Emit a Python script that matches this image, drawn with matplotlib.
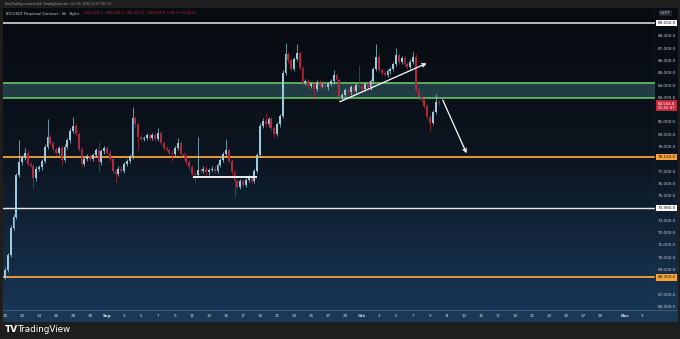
import numpy as np
import matplotlib.pyplot as plt
import matplotlib.colors as mcolors

close = [69000, 70200, 72400, 73300, 76700, 77700, 78100, 78500, 77600, 77400,
         76400, 77200, 77300, 77800, 79000, 79800, 79300, 78800, 78500, 78900,
         77900, 79000, 79500, 80300, 80700, 80000, 78800, 77600, 78000, 78200,
         78000, 78300, 78700, 77700, 78600, 78900, 78500, 78000, 77000, 76800,
         77200, 77000, 77600, 77800, 78200, 81300, 80800, 79800, 79600, 79700,
         79900, 79700, 79900, 79600, 80100, 79300, 78900, 78700, 78500, 78400,
         78900, 79300, 78400, 78200, 77700, 77300, 76800, 76700, 77100, 77000,
         77200, 76900, 77100, 77200, 77000, 77500, 77900, 78400, 78700, 77800,
         76900, 76200, 75700, 76200, 75900, 76300, 76500, 76200, 77000, 78300,
         80700, 81100, 80800, 81200, 80500, 80000, 80800, 81500, 85000, 86500,
         86000, 85300, 86100, 86600, 85400, 84200, 84300, 83900, 84100, 83700,
         84200, 83900, 84000, 83800, 84100, 84300, 84800, 84400, 83000, 83200,
         83600, 83400, 83800, 83500, 84000, 83900, 83700, 84100, 83800, 84300,
         85300, 86300, 85200, 85000, 84800, 85100, 85300, 85700, 86400, 85900,
         86200, 85700, 85500, 85900, 86300, 83600, 83000, 82800, 82300, 81400,
         80900, 81800, 82600, 82500]
first_open = 68300
# long wicks (others get a short default wick)
high_spikes = {5: 79500, 7: 78900, 15: 81200, 24: 81400, 33: 79400, 45: 82200,
               54: 80500, 61: 79700, 68: 79800, 78: 79600, 92: 81700, 99: 87400,
               103: 87300, 116: 85200, 125: 85600, 131: 87300, 138: 87000,
               144: 86700, 152: 83300}
low_spikes = {0: 68200, 10: 75600, 20: 77500, 27: 77300, 33: 76900, 39: 76100,
              47: 78700, 59: 77800, 67: 76100, 81: 74900, 95: 79700, 109: 82900,
              118: 82700, 150: 80300}

# drawn levels
top_line = 89050
zone_lo, zone_hi = 82920, 84140
orange_levels = [78150, 68350]
white_mid = 73980
last_price = 82504.8

# drawn arrows (day, price)
arrow_up = [(39.4, 82640), (49.6, 85760)]
arrow_down = [(51.5, 82780), (54.3, 78450)]
range_line = [(22.1, 29.6), 76480]

price_ticks = [66000, 67000, 69000, 70000, 71000, 72000, 73000, 75000, 76000, 77000,
               79000, 80000, 81000, 83000, 84000, 85000, 86000, 87000, 88000]
tick_days = [0, 2, 4, 6, 8, 10, 12, 14, 16, 18, 20, 22, 24, 26, 28, 30, 32, 34, 36, 38,
             40, 42, 44, 46, 48, 50, 52, 54, 56, 58, 60, 62, 64, 66, 68, 70, 73, 75]
tick_text = ['20', '22', '24', '26', '28', '30', 'Sep', '3', '5', '7', '9', '11', '13',
             '15', '17', '19', '21', '23', '25', '27', '29', 'Oct', '3', '5', '7', '9',
             '11', '13', '15', '17', '19', '21', '23', '25', '27', '29', 'Nov', '3']

W, H = 680, 339
fig = plt.figure(figsize=(W / 100, H / 100), dpi=100, facecolor='#1e1e1e')

def box(x0, y0, x1, y1):
    return [x0 / W, 1 - y1 / H, (x1 - x0) / W, (y1 - y0) / H]

# gradient background for chart + price panel
bg = fig.add_axes(box(3, 8, 678, 310))
cmap = mcolors.LinearSegmentedColormap.from_list('bg', ['#080b10', '#0c1520', '#183656'])
bg.imshow(np.linspace(0, 1, 256).reshape(-1, 1), aspect='auto', cmap=cmap,
          extent=[0, 1, 0, 1], origin='upper')
bg.set_axis_off()

# time band
tb = fig.add_axes(box(3, 310, 678, 322))
tb.set_facecolor('#1a3956')
tb.set_xticks([]); tb.set_yticks([])
for s in tb.spines.values():
    s.set_visible(False)
tb.axhline(1, color='#3a5a78', lw=0.8)

ax = fig.add_axes(box(3, 8, 655, 310))
ax.patch.set_alpha(0)
ymin = 85000 - (310 - 72.7) * 81.3
ymax = 85000 - (8 - 72.7) * 81.3
xmin, xmax = (3 - 5) / 8.5, (655 - 5) / 8.5
ax.set_xlim(xmin, xmax)
ax.set_ylim(ymin, ymax)

n = len(close)
t = np.arange(n) / 3
opens = [first_open] + close[:-1]
up_c, dn_c = '#9ccbdb', '#b3283f'
for i in range(n):
    o, c = opens[i], close[i]
    hi = high_spikes.get(i, max(o, c) + 180)
    lo = low_spikes.get(i, min(o, c) - 180)
    col = up_c if c >= o else dn_c
    ax.vlines(t[i], lo, hi, color=col, lw=0.5, zorder=3)
    ax.bar(t[i], max(abs(c - o), 60), bottom=min(o, c), width=0.22, color=col,
           linewidth=0, zorder=4)

# levels
ax.axhline(top_line, color='#e8e8e8', lw=1.1, zorder=2)
ax.axhspan(zone_lo, zone_hi, color='#35636a', alpha=0.55, lw=0, zorder=1)
ax.axhline(zone_lo, color='#6fcf6a', lw=1.1, zorder=2)
ax.axhline(zone_hi, color='#6fcf6a', lw=1.1, zorder=2)
for lv in orange_levels:
    ax.axhline(lv, color='#f5a53a', lw=1.3, zorder=2)
ax.axhline(white_mid, color='#e8e8e8', lw=1.0, zorder=2)
ax.hlines(range_line[1], *range_line[0], color='white', lw=1.3, zorder=5)

for (x0, y0), (x1, y1) in [arrow_up, arrow_down]:
    ax.annotate('', xy=(x1, y1), xytext=(x0, y0), zorder=6,
                arrowprops=dict(arrowstyle='->', color='white', lw=0.9,
                                shrinkA=0, shrinkB=0, mutation_scale=6))

for s in ax.spines.values():
    s.set_visible(False)
ax.axvline(xmax, color='#2c3e52', lw=1.0)

# price axis
ax.yaxis.tick_right()
ax.set_yticks(price_ticks)
ax.set_yticklabels([f'{v:,.1f}' for v in price_ticks])
ax.tick_params(axis='y', length=0, pad=2.2, labelsize=3.0, labelcolor='#c8ccd4')

def tag(price, txt, fc, tc):
    ax.text(1.004, price, txt, transform=ax.get_yaxis_transform(), fontsize=3.0,
            color=tc, va='center', ha='left', zorder=10,
            bbox=dict(boxstyle='square,pad=0.3', fc=fc, ec='none'), clip_on=False)

tag(top_line, f'{top_line:,.1f}', 'white', '#111111')
tag(orange_levels[0], f'{orange_levels[0]:,.1f}', '#f5a53a', '#111111')
tag(white_mid, f'{white_mid:,.1f}', 'white', '#111111')
tag(orange_levels[1], f'{orange_levels[1]:,.1f}', '#f5a53a', '#111111')
ax.text(1.004, last_price + 150, f'{last_price:,.1f}\n02:42:47', transform=ax.get_yaxis_transform(),
        fontsize=2.9, color='white', va='top', ha='left', zorder=10,
        linespacing=1.1, bbox=dict(boxstyle='square,pad=0.3', fc='#c2293d', ec='none'),
        clip_on=False)
fig.text(660 / W, 1 - 13 / H, 'USDT', fontsize=2.9, color='#c8ccd4', va='center',
         bbox=dict(boxstyle='square,pad=0.3', fc='#1e2530', ec='none'))

# time labels
ax.set_xticks(tick_days)
ax.set_xticklabels(tick_text)
ax.tick_params(axis='x', length=0, pad=3.2, labelsize=3.0, labelcolor='#d6dce4')
for lab in ax.get_xticklabels():
    if lab.get_text() in ('Sep', 'Oct', 'Nov'):
        lab.set_fontweight('bold')

# header
fig.text(5 / W, 1 - 3.5 / H, 'KoryTrading created with TradingView.com, Oct 09, 2024 21:17 UTC+4',
         fontsize=2.2, color='#9aa0a8', va='center')
fig.text(6 / W, 1 - 13.5 / H, 'BTCUSDT Perpetual Contract · 4h · Bybit', fontsize=2.6,
         color='#d0d4da', va='center')
fig.text(84 / W, 1 - 13.5 / H, 'O82,523.1  H82,604.0  L82,421.5  C82,504.8  −18.3 (−0.02%)',
         fontsize=2.6, color='#c2293d', va='center')

# footer logo
fig.text(5 / W, 1 - 330 / H, 'TV', fontsize=6.5, fontweight='bold', color='white', va='center')
fig.text(17 / W, 1 - 330 / H, 'TradingView', fontsize=6.3, color='white', va='center')

fig.savefig('out.png', dpi=100, facecolor=fig.get_facecolor())
